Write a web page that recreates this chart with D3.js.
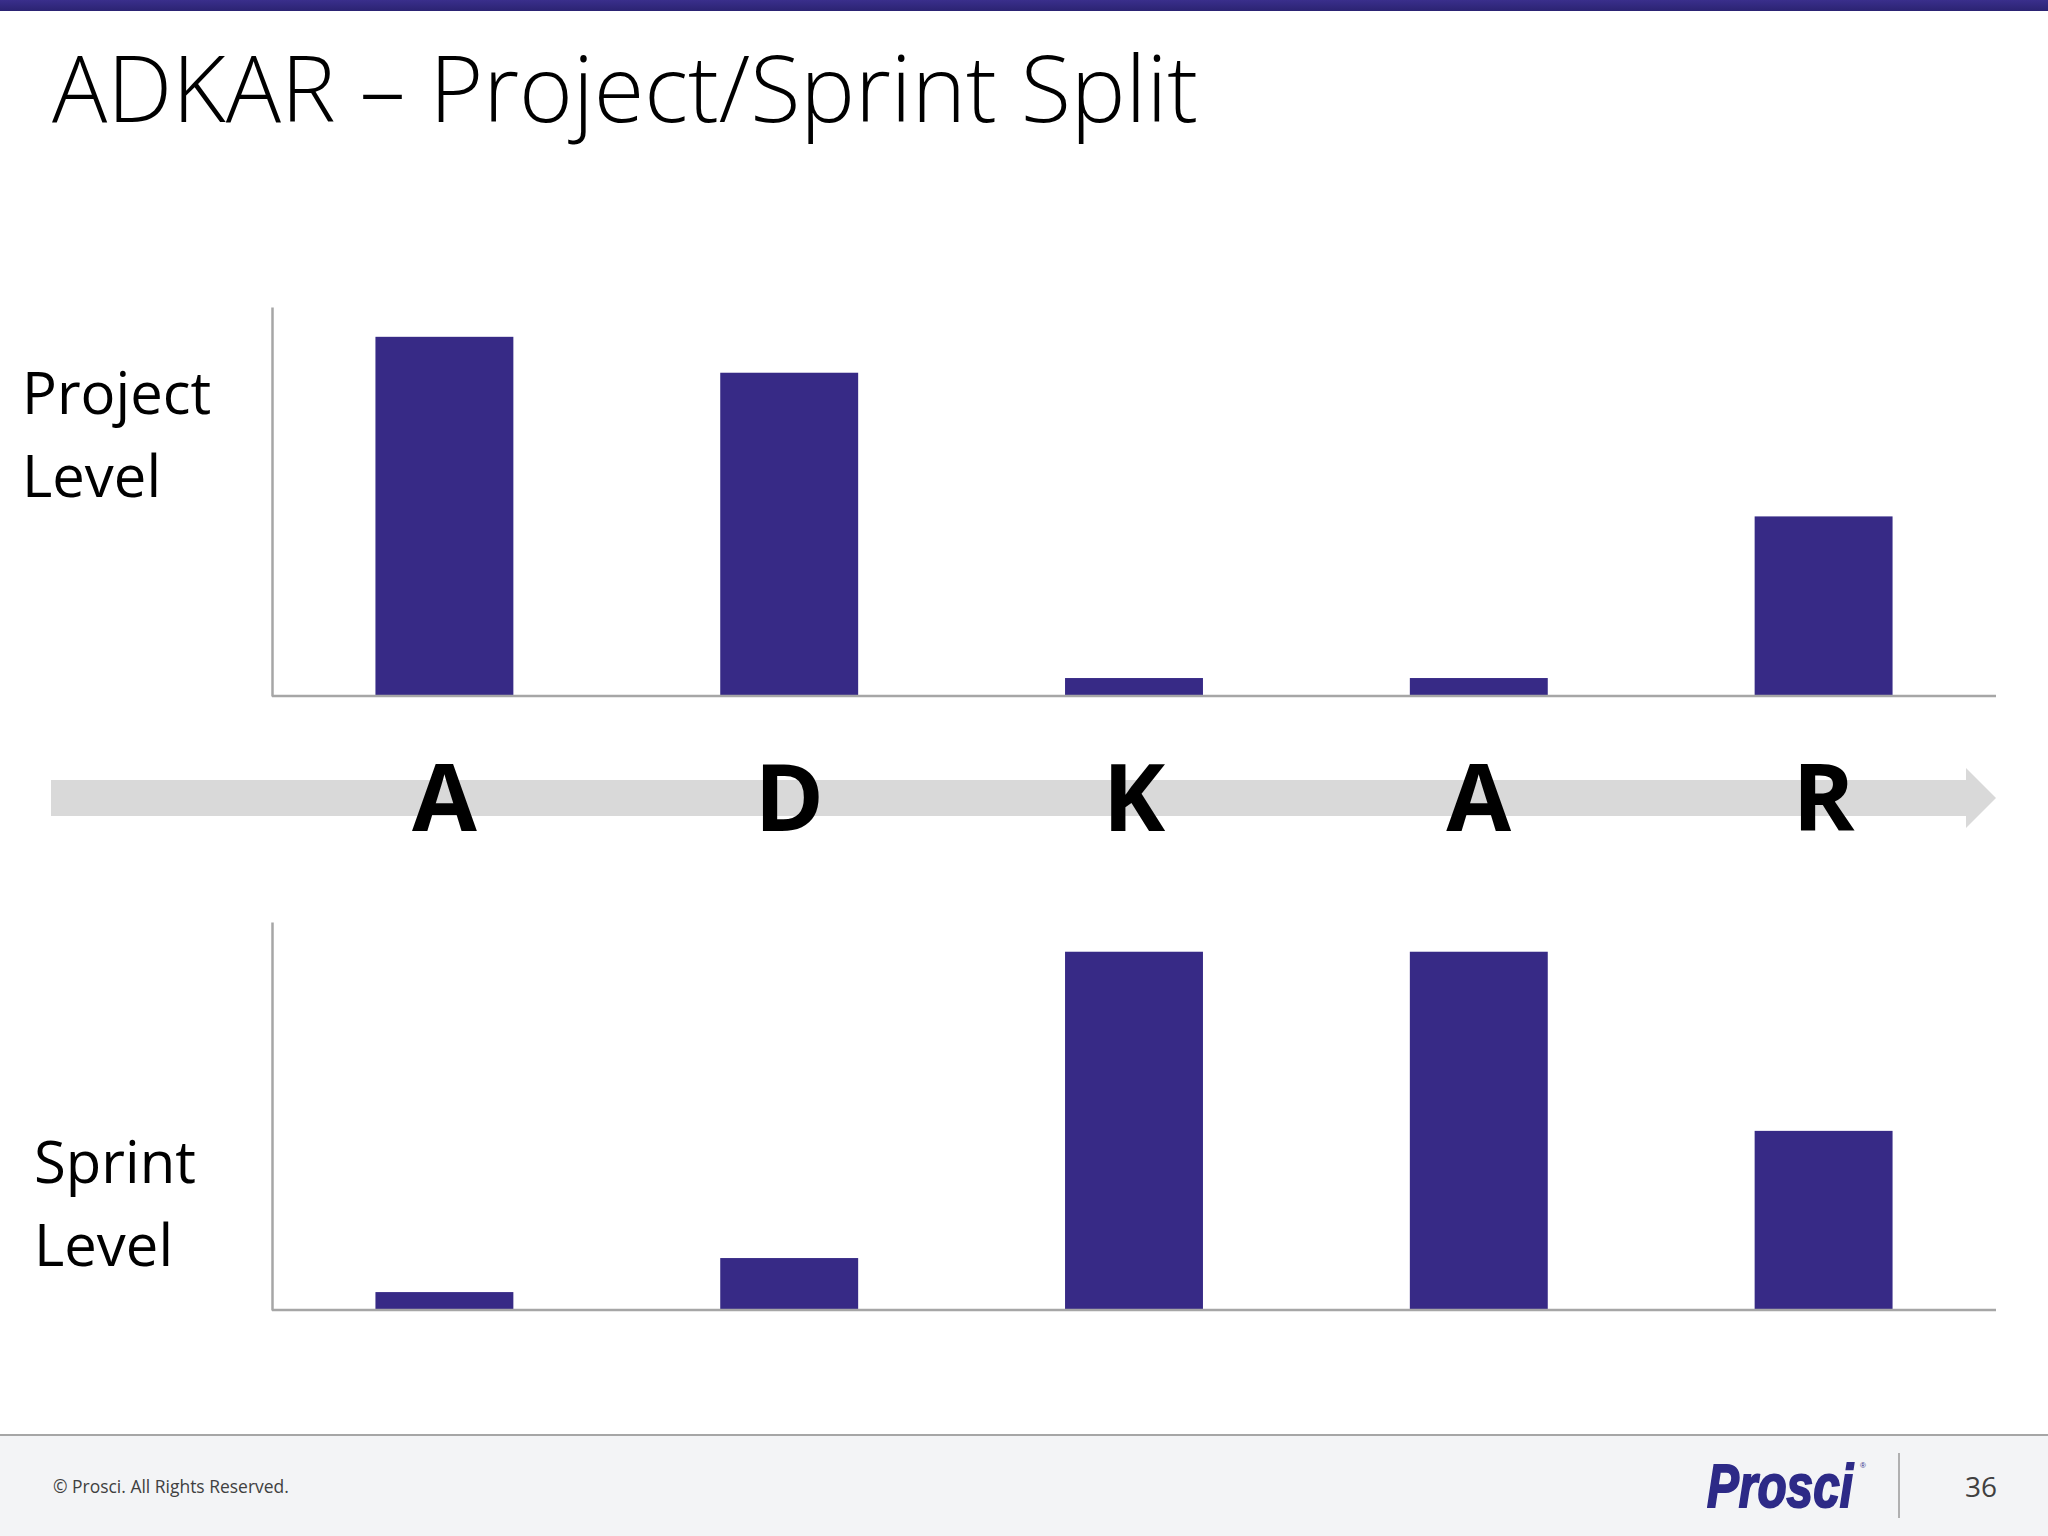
<!DOCTYPE html>
<html>
<head>
<meta charset="utf-8">
<script src="https://cdn.jsdelivr.net/npm/d3@7"></script>
<style>
  html, body { margin: 0; padding: 0; background: #ffffff; }
  svg { display: block; }
  text { font-family: "Open Sans", "Noto Sans", sans-serif; }
  text.logo { font-family: "Liberation Sans Narrow", "Liberation Sans", "DejaVu Sans Condensed", sans-serif; }
</style>
</head>
<body>
<script>
// ---------- data ----------
const categories = ["Awareness", "Desire", "Knowledge", "Ability", "Reinforcement"];
const letters = ["A", "D", "K", "A", "R"];
const projectValues = [100, 90, 5, 5, 50];
const sprintValues = [5, 14.5, 100, 100, 50];
const projectLabel = ["Project", "Level"];
const sprintLabel = ["Sprint", "Level"];
const titleText = "ADKAR \u2013 Project/Sprint Split";
const footerText = "\u00A9 Prosci. All Rights Reserved.";
const pageNumber = "36";

// ---------- setup ----------
const W = 2048, H = 1536;
const barColor = "#372a86";
const axisColor = "#a6a6a6";

const svg = d3.select("body").append("svg")
  .attr("width", W).attr("height", H);

svg.append("rect").attr("width", W).attr("height", H).attr("fill", "#ffffff");

// top band
const grad = svg.append("defs").append("linearGradient")
  .attr("id", "topband").attr("x1", 0).attr("x2", 0).attr("y1", 0).attr("y2", 1);
grad.append("stop").attr("offset", "0%").attr("stop-color", "#3a2f8c");
grad.append("stop").attr("offset", "100%").attr("stop-color", "#2b2372");
svg.append("rect").attr("x", 0).attr("y", 0).attr("width", W).attr("height", 11)
  .attr("fill", "url(#topband)");

// title
function fit(sel, target) {
  const len = sel.node().getComputedTextLength();
  const fs = parseFloat(sel.attr("font-size"));
  sel.attr("font-size", fs * target / len);
}
const title = svg.append("text")
  .attr("x", 52).attr("y", 122)
  .attr("font-size", 92).attr("font-weight", 300)
  .attr("fill", "#000")
  .text(titleText);
fit(title, 1146);

// ---------- scales ----------
const x = d3.scaleBand().domain(categories).range([272, 1996])
  .paddingInner(0.6).paddingOuter(0.3);
const yMax = 108.3;
const yTop = d3.scaleLinear().domain([0, yMax]).range([696, 307]);
const yBot = d3.scaleLinear().domain([0, yMax]).range([1310, 922]);

function panel(values, y, label, labelX, labelY) {
  const g = svg.append("g");
  g.selectAll("rect.bar").data(values).join("rect")
    .attr("class", "bar")
    .attr("x", (d, i) => x(categories[i]))
    .attr("width", x.bandwidth())
    .attr("y", d => y(d))
    .attr("height", d => y(0) - y(d))
    .attr("fill", barColor);

  const xa = g.append("g").attr("transform", `translate(0,${y(0)})`)
    .call(d3.axisBottom(x).tickSize(0).tickSizeOuter(0).tickFormat(""));
  xa.select(".domain").attr("d", `M${x.range()[0]},0H${x.range()[1]}`);
  const ya = g.append("g").attr("transform", `translate(${x.range()[0]},0)`)
    .call(d3.axisLeft(y).tickValues([]).tickSizeOuter(0));
  g.selectAll(".domain").attr("stroke", axisColor).attr("stroke-width", 2.5);
  g.selectAll(".tick").remove();

  const t = g.append("text").attr("fill", "#000").attr("font-size", 58);
  label.forEach((s, i) => {
    t.append("tspan").attr("x", labelX).attr("y", labelY + i * 83).text(s);
  });
}

panel(projectValues, yTop, projectLabel, 22, 414);
panel(sprintValues, yBot, sprintLabel, 34, 1183);

// ---------- arrow with letters ----------
const ax0 = 51, axEnd = x.range()[1], headLen = 30, cy = 798;
const arrowPath = d3.path();
arrowPath.moveTo(ax0, cy - 18);
arrowPath.lineTo(axEnd - headLen, cy - 18);
arrowPath.lineTo(axEnd - headLen, cy - 30);
arrowPath.lineTo(axEnd, cy);
arrowPath.lineTo(axEnd - headLen, cy + 30);
arrowPath.lineTo(axEnd - headLen, cy + 18);
arrowPath.lineTo(ax0, cy + 18);
arrowPath.closePath();
svg.append("path").attr("d", arrowPath.toString()).attr("fill", "#d9d9d9");

svg.append("g").selectAll("text").data(letters).join("text")
  .attr("x", (d, i) => x(categories[i]) + x.bandwidth() / 2)
  .attr("y", 831)
  .attr("text-anchor", "middle")
  .attr("font-size", 94)
  .attr("font-weight", 700)
  .attr("fill", "#000")
  .text(d => d);

// ---------- footer ----------
svg.append("rect").attr("x", 0).attr("y", 1436).attr("width", W).attr("height", H - 1436)
  .attr("fill", "#f3f4f6");
svg.append("line").attr("x1", 0).attr("x2", W).attr("y1", 1435).attr("y2", 1435)
  .attr("stroke", "#a6a6a6").attr("stroke-width", 2);

const ft = svg.append("text").attr("x", 53).attr("y", 1493)
  .attr("font-size", 18).attr("fill", "#404040").text(footerText);
fit(ft, 236);

const logo = svg.append("text").attr("class", "logo")
  .attr("fill", "#2d2a87");
logo.append("tspan").attr("x", 1707).attr("y", 1507)
  .attr("font-size", 62).attr("font-weight", 700).attr("font-style", "italic")
  .attr("textLength", 146).attr("lengthAdjust", "spacingAndGlyphs")
  .attr("stroke", "#2d2a87").attr("stroke-width", 2)
  .text("Prosci");
logo.append("tspan").attr("x", 1860).attr("y", 1468)
  .attr("font-size", 8).text("\u00AE");

svg.append("line").attr("x1", 1899).attr("x2", 1899).attr("y1", 1453).attr("y2", 1518)
  .attr("stroke", "#9a9a9a").attr("stroke-width", 1.5);

svg.append("text").attr("x", 1981).attr("y", 1497).attr("text-anchor", "middle")
  .attr("font-size", 28).attr("fill", "#404040").text(pageNumber);
</script>
</body>
</html>
